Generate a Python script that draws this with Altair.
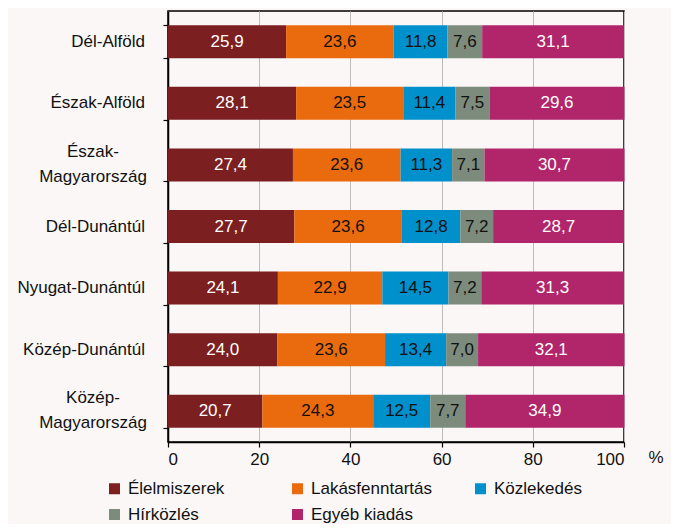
import altair as alt
import pandas as pd

regions = ["Dél-Alföld", "Észak-Alföld", "Észak-Magyarország", "Dél-Dunántúl",
           "Nyugat-Dunántúl", "Közép-Dunántúl", "Közép-Magyarország"]
categories = ["Élelmiszerek", "Lakásfenntartás", "Közlekedés", "Hírközlés", "Egyéb kiadás"]
elelmiszerek = [25.9, 28.1, 27.4, 27.7, 24.1, 24.0, 20.7]
lakasfenntartas = [23.6, 23.5, 23.6, 23.6, 22.9, 23.6, 24.3]
kozlekedes = [11.8, 11.4, 11.3, 12.8, 14.5, 13.4, 12.5]
hirkozles = [7.6, 7.5, 7.1, 7.2, 7.2, 7.0, 7.7]
egyeb = [31.1, 29.6, 30.7, 28.7, 31.3, 32.1, 34.9]
x_ticks = [0, 20, 40, 60, 80, 100]

colors = ["#7B1F21", "#EA6A0E", "#0090CC", "#7C8B7C", "#B1256B"]
FONT = "Liberation Sans, Arial, sans-serif"
FS = 17

series = [elelmiszerek, lakasfenntartas, kozlekedes, hirkozles, egyeb]
rows = []
for ci, (cat, vals) in enumerate(zip(categories, series)):
    for ri, (reg, v) in enumerate(zip(regions, vals)):
        rows.append({"region": reg, "cat": cat, "order": ci, "value": v,
                     "label": f"{v:.1f}".replace(".", ",")})
df = pd.DataFrame(rows)
reg_df = pd.DataFrame({"region": regions})

y_scale = alt.Scale(domain=regions, paddingInner=0.464, paddingOuter=0.232)
y_enc = alt.Y("region:N", sort=regions, scale=y_scale,
              axis=alt.Axis(title=None, domainColor="#000000", domainWidth=1.5,
                            tickColor="#000000", tickWidth=1.2, tickSize=5, tickBand="extent",
                            labels=False))

x_scale = alt.Scale(domain=[0, 100], nice=False)

base = alt.Chart(df).transform_stack(
    stack="value", as_=["start", "end"], groupby=["region"],
    sort=[alt.SortField("order", order="ascending")]
).transform_calculate(mid="(datum.start + datum.end) / 2")

bars = base.mark_bar().encode(
    y=y_enc,
    x=alt.X("start:Q", scale=x_scale,
            axis=alt.Axis(values=x_ticks, grid=True, gridColor="#BDBDBD", gridWidth=1,
                          domainColor="#000000", domainWidth=1.5, tickColor="#000000",
                          tickWidth=1.2, tickSize=5, labelFontSize=FS, labelFont=FONT,
                          labelColor="#111111", labelPadding=4, title="%",
                          titleFont=FONT, titleFontSize=FS, titleFontWeight="normal",
                          titleColor="#111111", titleAngle=0, titleAlign="left",
                          titleBaseline="alphabetic", titleX=480, titleY=20)),
    x2="end:Q",
    color=alt.Color("cat:N", scale=alt.Scale(domain=categories, range=colors),
                    legend=alt.Legend(title=None, orient="none", legendX=-62, legendY=469,
                                      direction="horizontal",
                                      columns=3, symbolType="square", symbolSize=121,
                                      symbolStrokeWidth=0, labelFontSize=FS, labelFont=FONT,
                                      labelColor="#111111", labelOffset=5,
                                      columnPadding=40, rowPadding=8, gridAlign="all")),
    order=alt.Order("order:Q"),
)

texts = base.mark_text(fontSize=FS, font=FONT, baseline="middle", align="center").encode(
    y=alt.Y("region:N", sort=regions, scale=y_scale),
    x=alt.X("mid:Q", scale=x_scale),
    text="label:N",
    color=alt.condition("datum.cat == 'Élelmiszerek' || datum.cat == 'Egyéb kiadás'",
                        alt.value("#FFFFFF"), alt.value("#111111")),
)

region_base = alt.Chart(reg_df).transform_calculate(
    is_multi="indexof(datum.region, 'Magyarország') > 0",
    lines="split(replace(datum.region, '-', '-|'), '|')",
)

single_labels = region_base.transform_filter("!datum.is_multi").mark_text(
    fontSize=FS, font=FONT, align="right", baseline="middle", color="#111111"
).encode(
    y=alt.Y("region:N", sort=regions, scale=y_scale),
    x=alt.value(-23),
    text="region:N",
)

multi_labels = region_base.transform_filter("datum.is_multi").mark_text(
    fontSize=FS, font=FONT, align="center", baseline="middle", color="#111111",
    lineHeight=25, dy=-13,
).encode(
    y=alt.Y("region:N", sort=regions, scale=y_scale),
    x=alt.value(-75),
    text="lines:N",
)

chart = alt.layer(bars, texts, single_labels, multi_labels).properties(
    width=456, height=431,
    background="#FAF7F6",
    autosize=alt.AutoSizeParams(type="none"),
    padding={"left": 160, "top": 3, "right": 47, "bottom": 82},
).configure_view(stroke="#000000", strokeWidth=1.5)

chart.save("out.html", embed_options={"renderer": "svg", "actions": False})
